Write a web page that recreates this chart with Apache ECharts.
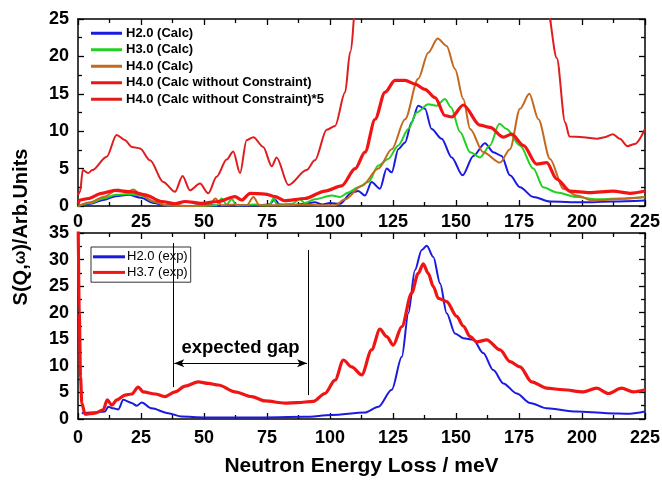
<!DOCTYPE html>
<html>
  <head>
    <meta charset="utf-8">
    <title></title>
    <script src="https://cdn.jsdelivr.net/npm/echarts@6/dist/echarts.min.js"></script>
    <style media="screen">
    html,body{
      height:100%;
      width:100%;
      margin:0px;
      background:#fff;
    }
    #chartDiv{
      width:662px;
      height:482px;
    }
    </style>
  </head>
  <body>
    <div id="chartDiv"></div>
    <script type="text/javascript">
    // x ticks (meV) and y ticks for both panels
    var xTicks = [0, 25, 50, 75, 100, 125, 150, 175, 200, 225];
    var topYTicks = [0, 5, 10, 15, 20, 25];
    var bottomYTicks = [0, 5, 10, 15, 20, 25, 30, 35];

    // ---- top panel: calculations ----
    var h20CalcX = [0, 5, 10, 15, 20, 25, 30, 35, 45, 52, 55, 60, 66, 70, 76, 78, 80, 85, 90, 94, 97, 100, 104, 108.6, 111.2, 113.9, 116.5, 119.8, 122.5, 124.5, 127.1, 129.8, 132.4, 135, 137.7, 140.3, 144.3, 148.3, 152.6, 156.9, 161.5, 164.8, 168.1, 171.4, 175.4, 180.7, 187.3, 200, 212, 225];
    var h20CalcY = [0, 0.3, 0.8, 1.3, 1.5, 1.1, 0.4, 0.05, 0, 0.2, 0, 0.1, 0, 0.1, 0.2, 0.9, 0.2, 0.1, 0.3, 0.5, 0.2, 0.4, 0.3, 1.8, 2.0, 1.4, 3.2, 2.3, 5.0, 4.5, 7.6, 8.5, 11.2, 13.4, 13.0, 10.3, 9.0, 6.5, 4.1, 6.7, 8.4, 7.2, 6.7, 4.1, 2.5, 1.2, 0.6, 0.5, 0.6, 0.75];

    var h30CalcX = [0, 5, 10, 15, 20, 25, 30, 35, 45, 55, 57, 59, 61, 63, 70, 76, 77.5, 79, 85, 88, 90, 94, 100.7, 104, 107.3, 111.2, 115.2, 119.2, 123.1, 127.1, 131.1, 134.4, 139, 142.3, 145.6, 148, 151.6, 155.6, 159.5, 163.5, 167.2, 170.1, 175.4, 180.7, 184.6, 190, 198, 205.8, 215, 225];
    var h30CalcY = [0, 0.4, 1.0, 1.5, 1.6, 1.4, 0.6, 0.1, 0, 0.1, 1.0, 0.2, 0.9, 0.1, 0.2, 0.1, 1.0, 0.2, 0.3, 0.9, 0.4, 0.9, 1.4, 1.2, 1.8, 2.5, 3.2, 5.4, 6.3, 8.1, 10.3, 12.5, 13.6, 13.4, 14.3, 13.2, 9.9, 7.2, 6.5, 8.1, 11.0, 10.3, 8.1, 5.0, 2.5, 1.8, 1.2, 0.9, 1.0, 1.2];

    var h40CalcX = [0, 5, 10, 16, 19, 22, 25, 30, 35, 45, 52, 54.5, 57, 62, 67, 69.6, 72, 80, 90, 98, 102, 106, 112.6, 119.2, 124.5, 129.8, 135, 139, 142.7, 146.3, 149.6, 152.9, 155.6, 160.8, 167.5, 171.4, 175.4, 179.1, 182.7, 187.3, 192.6, 197.9, 204.5, 212.3, 225];
    var h40CalcY = [0, 0.5, 1.2, 2.2, 1.8, 2.2, 1.5, 0.6, 0.1, 0, 0.1, 1.0, 0.1, 0.2, 0.1, 1.2, 0.1, 0.1, 0.2, 0.1, 0.1, 0.9, 2.7, 5.0, 7.6, 11.6, 17.0, 20.5, 22.4, 21.4, 18.3, 14.3, 10.3, 7.2, 5.8, 7.6, 13.0, 15.0, 11.6, 6.3, 2.3, 1.4, 0.7, 0.9, 1.2];

    var h40FreeX = [0, 0.8, 4.1, 9.4, 14.7, 21.3, 26.6, 33.2, 38.5, 42.5, 49, 55.7, 62.3, 65, 68.3, 74.2, 78.2, 82, 90, 98, 104.6, 110, 113.9, 117.9, 121.8, 125.8, 129.8, 133.7, 137.7, 141.7, 145.6, 148.3, 152.9, 159.5, 163.5, 168.8, 172.1, 176.7, 182, 186, 190, 195.2, 203, 212.3, 219, 225];
    var h40FreeY = [0.3, 0.8, 1.0, 1.7, 2.1, 1.9, 1.5, 0.6, 0.3, 0.6, 0.35, 0.6, 1.25, 0.8, 1.7, 1.6, 1.25, 0.7, 1.0, 2.0, 2.7, 5.0, 7.2, 11.6, 15.2, 16.8, 16.8, 16.3, 15.6, 14.5, 12.1, 11.9, 13.5, 10.8, 10.5, 9.2, 9.6, 8.1, 5.6, 5.8, 3.6, 2.0, 1.8, 2.0, 1.7, 2.0];

    var h40Free5X = [0, 0.8, 1.9, 4, 5.7, 11.4, 15.3, 18.7, 21.3, 24.6, 28.6, 33.8, 38.5, 41.5, 44.4, 48.4, 51.7, 55, 59, 61.6, 64.3, 66.9, 69.6, 73.5, 76.9, 78.8, 83.5, 90.7, 94, 98.7, 102, 106, 108, 112, 120, 127, 135, 140, 145, 150, 153, 160, 170, 180, 186, 190, 193.3, 195, 200.4, 206, 209, 212.3, 215, 218, 221, 225];
    var h40Free5Y = [1.5, 1.9, 4.8, 4.4, 4.8, 6.6, 9.5, 8.8, 7.9, 7.7, 6.1, 3.2, 1.9, 4.0, 2.1, 3.0, 1.7, 3.9, 6.2, 7.3, 4.4, 8.8, 9.2, 7.9, 5.3, 6.5, 2.8, 4.8, 6.1, 10.2, 10.7, 15.2, 20.6, 35, 60, 83, 80, 72, 60, 58, 66, 52, 47, 30, 27, 19.8, 11.2, 9.3, 9.2, 9.0, 9.2, 9.6, 9.0, 8.0, 8.3, 10.3];

    // ---- bottom panel: experiment ----
    var h20ExpX = [1.5, 5, 10.7, 12, 14, 16, 18, 21.3, 23.3, 25.3, 29.2, 35.8, 41.1, 50, 70, 90, 100.7, 113.9, 119.2, 124.5, 128.5, 131.1, 133.7, 136.4, 138.4, 141, 143.7, 146.3, 149.6, 152.9, 156.9, 160.8, 164.8, 168.8, 174.1, 179.4, 186, 197.9, 209.8, 219, 225];
    var h20ExpY = [1.1, 1.2, 1.4, 2.3, 2.0, 1.8, 3.6, 3.0, 2.5, 3.1, 2.0, 1.1, 0.45, 0.3, 0.3, 0.4, 0.75, 1.2, 2.3, 5.5, 11.7, 19.9, 28.0, 31.8, 32.6, 30.5, 25.5, 19.9, 16.1, 15.2, 14.9, 12.4, 9.2, 6.7, 4.8, 3.0, 2.0, 1.4, 1.1, 1.0, 1.4];

    var h37ExpX = [0, 0.5, 1, 1.5, 2.8, 6.7, 10, 11.6, 13.4, 15.4, 18.7, 21.3, 23.9, 25.9, 30.6, 34.5, 38.5, 42.5, 47.7, 51.7, 55.7, 62.3, 68.9, 74.2, 82.1, 87, 93.4, 98, 102, 105.3, 108.6, 112.6, 116.5, 119.8, 122.5, 125.1, 128.5, 132.4, 135, 137, 139, 141, 143, 146.3, 150.3, 152.9, 155.6, 158.2, 162.2, 167.5, 171.4, 175.4, 180, 186, 192.6, 200.5, 205.8, 210.5, 215.7, 220.3, 225];
    var h37ExpY = [40, 20, 8, 3, 0.9, 1.1, 1.7, 3.6, 2.6, 3.6, 4.5, 4.7, 6.0, 5.1, 4.7, 4.2, 5.1, 6.2, 7.0, 6.7, 6.4, 5.1, 4.2, 3.4, 3.0, 3.1, 3.3, 4.8, 7.3, 11.1, 9.8, 8.3, 13.0, 16.9, 15.5, 13.9, 17.4, 23.7, 27.4, 29.2, 27.4, 24.9, 22.7, 22.1, 19.3, 17.5, 15.5, 14.5, 14.9, 13.0, 10.8, 9.8, 7.0, 5.8, 5.5, 5.1, 5.8, 4.8, 5.8, 5.1, 5.5];

    // "expected gap" annotation (data units of the bottom panel)
    var gapLeft = [37.7, 33.1, 6.0];
    var gapRight = [91.4, 31.8, 4.5];
    var gapArrow = [38.2, 90.9, 10.5];
    var gapLabel = [64.5, 13.3];

    function pairs(xs, ys){
      var out = [];
      for (var i = 0; i < xs.length; i++) out.push([xs[i], ys[i]]);
      return out;
    }

    var font = 'Liberation Sans, Arial, sans-serif';

    function xAx(grid, pos, labels, name){
      return {
        type:'value', gridIndex:grid, position:pos, min:xTicks[0], max:xTicks[xTicks.length-1], interval:25,
        axisLine:{onZero:false, lineStyle:{color:'#000', width:1.5}},
        axisTick:{inside:true, length:6, lineStyle:{color:'#000', width:1.3}},
        minorTick:{show:true, splitNumber:2, length:4, lineStyle:{color:'#000', width:1.3}},
        splitLine:{show:false},
        axisLabel:{show:labels, color:'#000', fontFamily:font, fontSize:18, fontWeight:'bold', margin: grid === 0 ? 7 : 10},
        name:name || '', nameLocation:'middle', nameGap:37,
        nameTextStyle:{color:'#000', fontFamily:font, fontSize:21, fontWeight:'bold'}
      };
    }
    function yAx(grid, pos, labels, ticks){
      return {
        type:'value', gridIndex:grid, position:pos, min:ticks[0], max:ticks[ticks.length-1], interval:5,
        axisLine:{onZero:false, lineStyle:{color:'#000', width:1.5}},
        axisTick:{inside:true, length:6, lineStyle:{color:'#000', width:1.3}},
        minorTick:{show:true, splitNumber:2, length:4, lineStyle:{color:'#000', width:1.3}},
        splitLine:{show:false},
        axisLabel:{show:labels, color:'#000', fontFamily:font, fontSize:18, fontWeight:'bold', margin:9}
      };
    }
    function line(name, xs, ys, color, width, xi, yi){
      return {
        name:name, type:'line', xAxisIndex:xi, yAxisIndex:yi,
        data:pairs(xs, ys), showSymbol:false, symbol:'none',
        smooth:0.3, smoothMonotone:'x', clip:true,
        lineStyle:{color:color, width:width}, itemStyle:{color:color},
        emphasis:{disabled:true}
      };
    }

    var redExp = line('H3.7 (exp)', h37ExpX, h37ExpY, '#f01414', 3.2, 2, 2);
    redExp.markLine = {
      silent:true, symbol:['none','none'], animation:false,
      label:{show:false},
      lineStyle:{color:'#000', width:1, type:'solid'},
      data:[
        [{coord:[gapLeft[0], gapLeft[1]]}, {coord:[gapLeft[0], gapLeft[2]]}],
        [{coord:[gapRight[0], gapRight[1]]}, {coord:[gapRight[0], gapRight[2]]}],
        [{coord:[gapArrow[0], gapArrow[2]], symbol:'arrow', symbolSize:[6,10]},
         {coord:[gapArrow[1], gapArrow[2]], symbol:'arrow', symbolSize:[6,10]}]
      ]
    };
    redExp.markPoint = {
      silent:true, symbol:'circle', symbolSize:0, animation:false,
      label:{show:true, position:'inside', formatter:'expected gap', color:'#000', fontFamily:font, fontSize:18.5, fontWeight:'bold'},
      data:[{coord:gapLabel}]
    };

    var option = {
      animation:false,
      backgroundColor:'#fff',
      grid:[
        {left:78, right:17, top:19, height:187, outerBoundsMode:'none'},
        {left:78, right:17, top:233, height:186, outerBoundsMode:'none'}
      ],
      legend:[
        {
          orient:'vertical', left:91, top:25, padding:0, itemGap:0,
          icon:'rect', itemWidth:31, itemHeight:3,
          textStyle:{color:'#000', fontFamily:font, fontSize:13, fontWeight:'bold', lineHeight:16.5, padding:[0,0,0,-1]},
          data:['H2.0 (Calc)','H3.0 (Calc)','H4.0 (Calc)','H4.0 (Calc without Constraint)','H4.0 (Calc without Constraint)*5']
        },
        {
          orient:'vertical', left:91, top:247, padding:[2,3,2,2], itemGap:0,
          icon:'rect', itemWidth:32, itemHeight:3,
          borderColor:'#333', borderWidth:1,
          textStyle:{color:'#000', fontFamily:font, fontSize:13, lineHeight:15.6, padding:[0,0,0,-3]},
          data:['H2.0 (exp)','H3.7 (exp)']
        }
      ],
      xAxis:[
        xAx(0, 'bottom', true),
        xAx(0, 'top', false),
        xAx(1, 'bottom', true, 'Neutron Energy Loss / meV'),
        xAx(1, 'top', false)
      ],
      yAxis:[
        yAx(0, 'left', true, topYTicks),
        yAx(0, 'right', false, topYTicks),
        yAx(1, 'left', true, bottomYTicks),
        yAx(1, 'right', false, bottomYTicks)
      ],
      graphic:[{
        type:'text', x:21, y:227, rotation:Math.PI/2,
        style:{
          text:'{a|S(}{q|Q}{a|,}{w|ω}{a|)/Arb.Units}',
          align:'center', verticalAlign:'middle',
          rich:{
            a:{fontFamily:font, fontSize:20, fontWeight:'bold', fill:'#000'},
            q:{fontFamily:font, fontSize:20, fontWeight:'bold', fill:'#000'},
            w:{fontFamily:font, fontSize:16, fontWeight:'bold', fill:'#000'}
          }
        }
      }],
      series:[
        line('H2.0 (Calc)', h20CalcX, h20CalcY, '#1a1ae0', 2, 0, 0),
        line('H3.0 (Calc)', h30CalcX, h30CalcY, '#22d022', 2, 0, 0),
        line('H4.0 (Calc)', h40CalcX, h40CalcY, '#c4681e', 2, 0, 0),
        line('H4.0 (Calc without Constraint)', h40FreeX, h40FreeY, '#f21414', 3.2, 0, 0),
        line('H4.0 (Calc without Constraint)*5', h40Free5X, h40Free5Y, '#e01c1c', 2, 0, 0),
        line('H2.0 (exp)', h20ExpX, h20ExpY, '#1a1ae0', 2, 2, 2),
        redExp
      ]
    };

    var chart = echarts.init(document.getElementById('chartDiv'));
    chart.setOption(option);
    </script>
  </body>
</html>
